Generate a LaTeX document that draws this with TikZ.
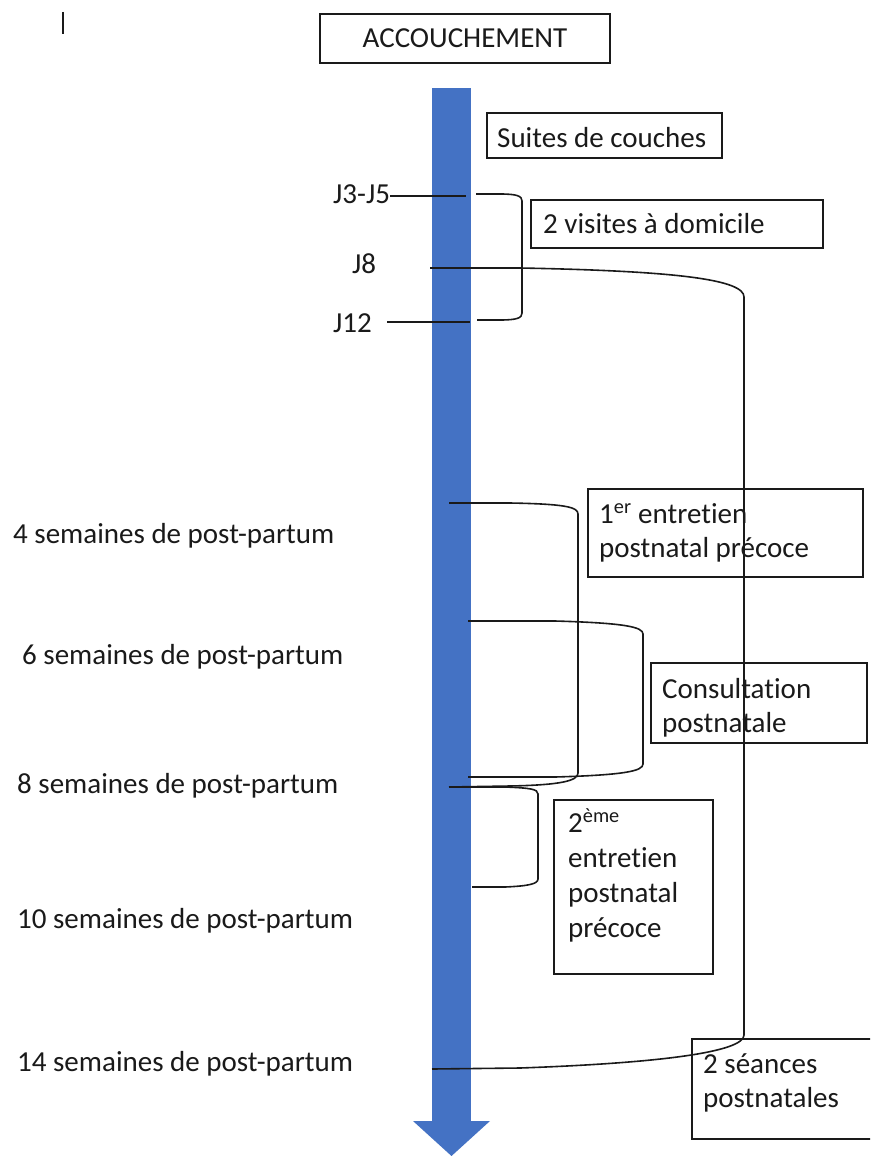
\documentclass[tikz,border=0pt]{standalone}
\usepackage{fontspec}
\setmainfont{Carlito}[Ligatures={NoCommon}]
\definecolor{wordblue}{HTML}{4472C4}
\definecolor{ink}{HTML}{1A1A1A}
\begin{document}
\begin{tikzpicture}[x=1pt,y=-1pt,
  txt/.style={font=\fontsize{29}{34.5}\selectfont, inner sep=0pt, anchor=base west, text=ink},
  boxs/.style={draw=ink, line width=1.6pt, anchor=north west, inner sep=0pt},
  ln/.style={line width=1.6pt, draw=ink},
]
\useasboundingbox (0,0) rectangle (870,1156);
\clip (0,0) rectangle (870,1156);
\fill[white] (0,0) rectangle (870,1156);
% cursor mark
\draw[line width=1.8pt, ink] (63,12) -- (63,34);

% title
\node[boxs, minimum width=290pt, minimum height=49pt] (accbox) at (319,13) {};
\node[txt, anchor=base] (acc) at (465,48) {ACCOUCHEMENT};

% timeline arrow
\fill[wordblue] (432,88) rectangle (471,1122);
\fill[wordblue] (413,1121) -- (490,1121) -- (451.5,1156) -- cycle;

% boxes
\node[boxs, minimum width=235pt, minimum height=45pt] (suitesbox) at (486,112) {};
\node[txt] (suites) at (497,147) {Suites de couches};

\node[boxs, minimum width=292pt, minimum height=48pt] (visbox) at (530,199) {};
\node[txt] (vis) at (543,233) {2 visites à domicile};

\node[boxs, minimum width=275pt, minimum height=88pt] (e1box) at (587,488) {};
\node[txt] (e1) at (599,523) {\begin{tabular}[t]{@{}l@{}}1\textsuperscript{er} entretien\\postnatal précoce\end{tabular}};

\node[boxs, minimum width=216pt, minimum height=80pt] (consbox) at (650,662) {};
\node[txt] (cons) at (662,698) {\begin{tabular}[t]{@{}l@{}}Consultation\\postnatale\end{tabular}};

\node[boxs, minimum width=159pt, minimum height=174pt] (e2box) at (553,799) {};
\node[txt, font=\fontsize{29}{35.3}\selectfont] (e2) at (568,832) {\begin{tabular}[t]{@{}l@{}}2\textsuperscript{ème}\\entretien\\postnatal\\précoce\end{tabular}};

\node[boxs, minimum width=220pt, minimum height=100pt] (seabox) at (691,1038) {};
\node[txt] (sea) at (703,1073) {\begin{tabular}[t]{@{}l@{}}2 séances\\postnatales\end{tabular}};

% day labels and ticks
\node[txt] (j35) at (333,203) {J3-J5};
\node[txt] (j8) at (352,273) {J8};
\node[txt] (j12) at (333,332) {J12};
\coordinate (t35) at (466,196);
\coordinate (t12a) at (387,322);
\coordinate (t12b) at (470,322);
\draw[ln] (j35.east |- t35) -- (t35);
\draw[ln] (t12a) -- (t12b);

% week labels
\node[txt] (w4) at (13,543) {4 semaines de post-partum};
\node[txt] (w6) at (22,664) {6 semaines de post-partum};
\node[txt] (w8) at (17,793) {8 semaines de post-partum};
\node[txt] (w10) at (17,928) {10 semaines de post-partum};
\node[txt] (w14) at (17,1071) {14 semaines de post-partum};

% bracket: 2 visites (J3-J5 to J12)
\coordinate (v1) at (476,194);
\coordinate (v2) at (477,320);
\draw[ln] (v1) -- (500,194) .. controls (517,194) and (522,196) .. (522,201)
  -- (522,313) .. controls (522,318) and (517,320) .. (500,320) -- (v2);

% big bracket: J8 to 14 weeks (2 seances postnatales)
\coordinate (g1) at (430,268);
\coordinate (g2) at (432,1069);
\draw[ln] (g1) -- (520,268) .. controls (680,271) and (744,280) .. (744,297)
  -- (744,1035) .. controls (744,1052) and (660,1063) .. (520,1068) -- (g2);

% bracket: 1er entretien (4 to 8 weeks)
\coordinate (a1) at (449,503);
\coordinate (a2) at (449,787);
\draw[ln] (a1) -- (510,503) .. controls (565,504) and (578,507) .. (578,514)
  -- (578,773) .. controls (578,781) and (560,785) .. (510,786) -- (a2);

% bracket: consultation postnatale (6 to 8 weeks)
\coordinate (c1) at (468,621);
\coordinate (c2) at (468,777);
\draw[ln] (c1) -- (555,621) .. controls (625,623) and (643,627) .. (643,634)
  -- (643,764) .. controls (643,771) and (625,775) .. (555,777) -- (c2);

% bracket: 2eme entretien (8 to 10 weeks)
\coordinate (d1) at (449,787);
\coordinate (d2) at (472,887);
\draw[ln] (d1) -- (505,787) .. controls (530,788) and (538,789) .. (538,794)
  -- (538,879) .. controls (538,884) and (528,886) .. (505,887) -- (d2);
\end{tikzpicture}
\end{document}
